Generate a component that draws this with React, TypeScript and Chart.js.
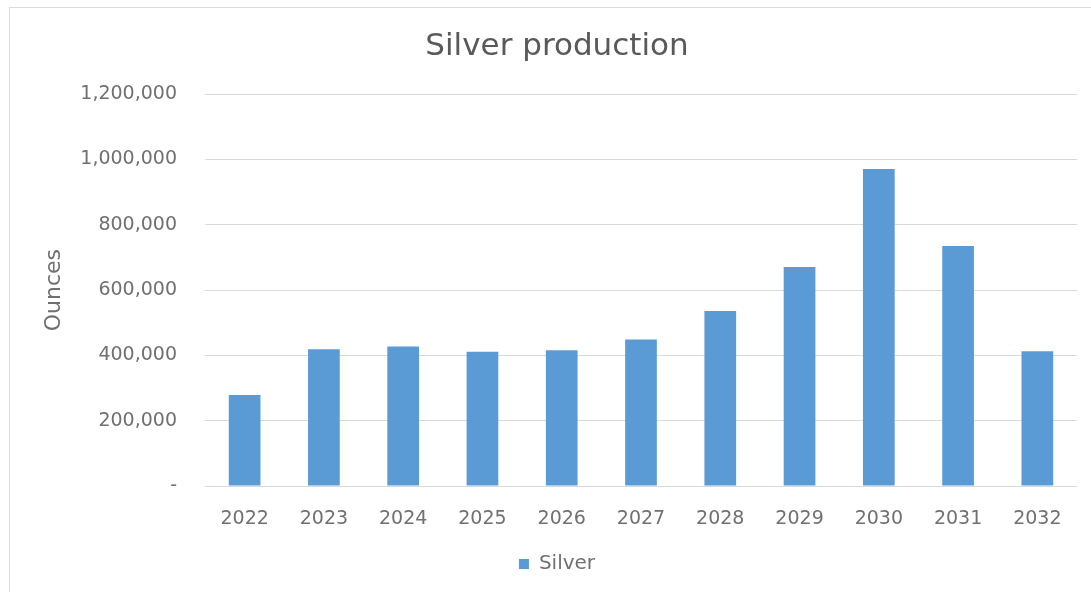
import React, { useEffect, useRef } from "react";
import { Chart, registerables } from "chart.js";

Chart.register(...registerables);

const categories = ["2022", "2023", "2024", "2025", "2026", "2027", "2028", "2029", "2030", "2031", "2032"];
const silverOunces = [279000, 419000, 427000, 411000, 416000, 449000, 536000, 671000, 971000, 735000, 413000];
const yTickMax = 1200000;
const yTickStep = 200000;
const chartTitle = "Silver production";
const yAxisTitle = "Ounces";
const seriesName = "Silver";

const FONT = "'DejaVu Sans', sans-serif";

export default function App() {
  const canvasRef = useRef<HTMLCanvasElement | null>(null);

  useEffect(() => {
    const canvas = canvasRef.current;
    if (!canvas) return;
    const chart = new Chart(canvas, {
      type: "bar",
      data: {
        labels: categories,
        datasets: [
          {
            label: seriesName,
            data: silverOunces,
            backgroundColor: "#5B9BD5",
            borderWidth: 0,
            barPercentage: 0.4,
            categoryPercentage: 1,
          },
        ],
      },
      options: {
        animation: false,
        responsive: false,
        maintainAspectRatio: false,
        layout: { padding: { left: 37, right: 14, top: 0, bottom: 8 } },
        plugins: {
          title: {
            display: true,
            text: chartTitle,
            color: "#595959",
            font: { family: FONT, size: 31, weight: "normal" },
            padding: { top: 28, bottom: 29 },
          },
          legend: {
            display: true,
            position: "bottom",
            labels: {
              color: "#707070",
              font: { family: FONT, size: 20 },
              boxWidth: 10,
              boxHeight: 10,
              padding: 10,
            },
          },
          tooltip: { enabled: false },
        },
        scales: {
          x: {
            grid: { display: false, drawTicks: false },
            border: { display: false },
            afterFit: (scale: any) => {
              scale.height = 58;
            },
            ticks: {
              color: "#707070",
              font: { family: FONT, size: 19 },
              padding: 22,
              maxRotation: 0,
            },
          },
          y: {
            min: 0,
            max: yTickMax,
            afterFit: (scale: any) => {
              scale.width = 168;
            },
            ticks: {
              stepSize: yTickStep,
              color: "#707070",
              font: { family: FONT, size: 19 },
              padding: 28,
              callback: (v: any) => (Number(v) === 0 ? "-" : Number(v).toLocaleString("en-US")),
            },
            grid: { color: "#d9d9d9", drawTicks: false, lineWidth: 1 },
            border: { display: false },
            title: {
              display: true,
              text: yAxisTitle,
              color: "#707070",
              font: { family: FONT, size: 22 },
              padding: { top: 4, bottom: 4 },
            },
          },
        },
      },
    });
    return () => chart.destroy();
  }, []);

  return (
    <>
      <div
        style={{
          position: "fixed",
          left: 9,
          top: 7,
          width: 1090,
          height: 590,
          border: "1px solid #dcdcdc",
          boxSizing: "border-box",
          background: "#fff",
        }}
      />
      <canvas
        ref={canvasRef}
        width={1091}
        height={592}
        style={{ position: "fixed", left: 0, top: 0, width: 1091, height: 592 }}
      />
    </>
  );
}
